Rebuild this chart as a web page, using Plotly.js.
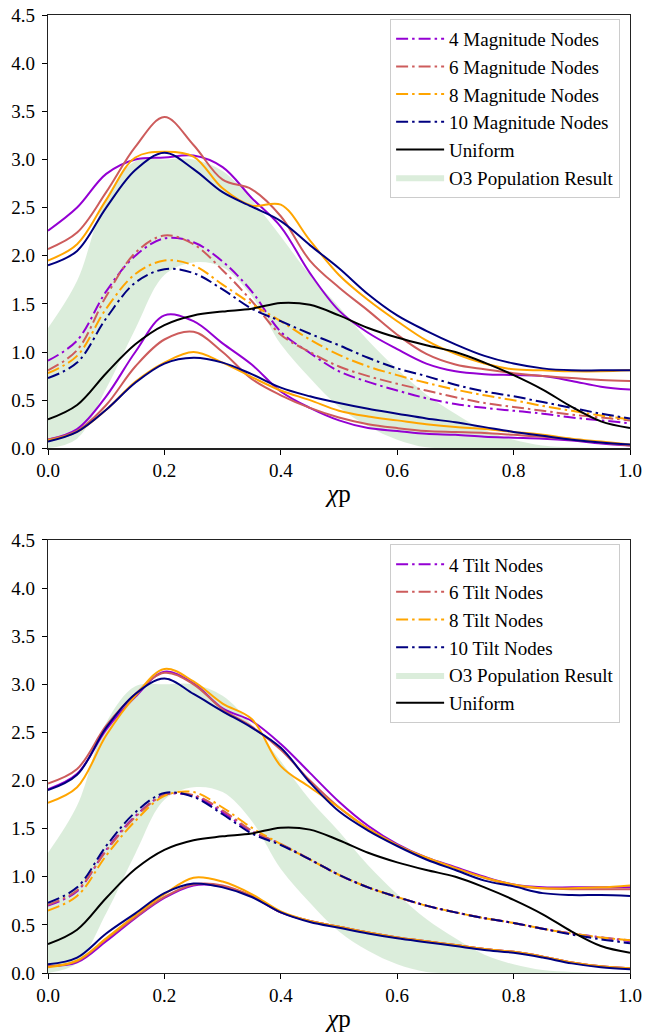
<!DOCTYPE html>
<html>
<head>
<meta charset="utf-8">
<script src="https://cdn.plot.ly/plotly-3.0.1.min.js"></script>
<style>
html,body{margin:0;padding:0;background:#fff;}
#chart{width:653px;height:1032px;}
</style>
</head>
<body>
<div id="chart"></div>
<script>
// x grid (chi_p)
const chiP = [0,0.05,0.1,0.15,0.2,0.25,0.3,0.35,0.4,0.45,0.5,0.55,0.6,0.65,0.7,0.75,0.8,0.85,0.9,0.95,1.0];

// O3 population result band (shared by both panels)
const o3Lower = [0.0,0.1,0.62,1.24,1.8,1.93,1.88,1.58,1.08,0.73,0.43,0.23,0.09,0.01,0,0,0,0,0,0,0];
const o3Upper = [1.25,1.74,2.6,2.98,3.0,3.0,2.88,2.58,2.2,1.8,1.47,1.12,0.82,0.56,0.36,0.19,0.09,0.03,0.01,0,0];

// Uniform (shared)
const uniform = [0.30,0.45,0.78,1.08,1.28,1.38,1.42,1.45,1.51,1.49,1.38,1.25,1.15,1.07,1.0,0.89,0.76,0.61,0.43,0.28,0.21];

// ---- Top panel: magnitude nodes ----
const mag4Upper  = [2.26,2.50,2.85,3.00,3.02,3.04,2.92,2.60,2.30,1.82,1.43,1.20,1.03,0.88,0.80,0.77,0.76,0.75,0.70,0.64,0.61];
const mag4Median = [0.91,1.12,1.63,2.00,2.18,2.14,1.94,1.63,1.21,0.99,0.80,0.69,0.60,0.52,0.46,0.42,0.39,0.36,0.32,0.29,0.26];
const mag4Lower  = [0.09,0.20,0.54,1.00,1.38,1.32,1.09,0.87,0.59,0.42,0.29,0.21,0.18,0.15,0.14,0.12,0.11,0.10,0.08,0.05,0.03];

const mag6Upper  = [2.07,2.24,2.66,3.13,3.44,3.15,2.79,2.69,2.41,1.95,1.67,1.43,1.18,0.98,0.87,0.82,0.78,0.75,0.73,0.71,0.70];
const mag6Median = [0.81,1.02,1.58,2.03,2.21,2.12,1.85,1.53,1.18,1.00,0.85,0.75,0.67,0.60,0.53,0.47,0.43,0.39,0.35,0.32,0.29];
const mag6Lower  = [0.09,0.18,0.45,0.85,1.13,1.21,1.00,0.72,0.55,0.42,0.32,0.25,0.21,0.18,0.17,0.16,0.14,0.12,0.09,0.06,0.03];

const mag8Upper  = [1.95,2.12,2.58,3.02,3.08,3.03,2.70,2.52,2.53,2.16,1.80,1.54,1.32,1.12,0.98,0.88,0.82,0.81,0.80,0.80,0.81];
const mag8Median = [0.78,0.96,1.45,1.81,1.95,1.90,1.70,1.50,1.32,1.13,0.97,0.85,0.76,0.68,0.61,0.55,0.50,0.44,0.39,0.34,0.30];
const mag8Lower  = [0.08,0.17,0.40,0.69,0.89,1.00,0.89,0.74,0.60,0.50,0.39,0.33,0.29,0.25,0.22,0.20,0.17,0.14,0.10,0.07,0.04];

const mag10Upper  = [1.90,2.05,2.50,2.89,3.07,2.90,2.66,2.51,2.36,2.11,1.87,1.60,1.38,1.22,1.08,0.96,0.88,0.83,0.81,0.81,0.81];
const mag10Median = [0.73,0.89,1.35,1.72,1.86,1.82,1.65,1.45,1.32,1.19,1.07,0.94,0.83,0.75,0.66,0.59,0.54,0.48,0.42,0.36,0.31];
const mag10Lower  = [0.07,0.17,0.40,0.68,0.88,0.94,0.89,0.77,0.63,0.54,0.47,0.41,0.36,0.31,0.27,0.22,0.17,0.13,0.09,0.06,0.04];

// ---- Bottom panel: tilt nodes ----
const tilt4Upper  = [1.91,2.07,2.53,2.87,3.13,3.01,2.75,2.62,2.38,2.08,1.78,1.53,1.34,1.20,1.10,1.00,0.92,0.89,0.89,0.89,0.89];
const tilt4Median = [0.70,0.85,1.28,1.63,1.85,1.84,1.67,1.47,1.34,1.18,1.02,0.89,0.79,0.70,0.63,0.57,0.52,0.46,0.41,0.37,0.33];
const tilt4Lower  = [0.07,0.11,0.33,0.57,0.78,0.91,0.90,0.80,0.63,0.54,0.48,0.42,0.37,0.33,0.29,0.25,0.22,0.17,0.11,0.07,0.05];

const tilt6Upper  = [1.97,2.12,2.57,2.90,3.12,3.00,2.74,2.56,2.32,2.00,1.72,1.50,1.33,1.19,1.09,0.99,0.91,0.88,0.87,0.87,0.87];
const tilt6Median = [0.71,0.86,1.27,1.62,1.85,1.85,1.69,1.48,1.34,1.18,1.02,0.89,0.79,0.70,0.63,0.57,0.52,0.46,0.41,0.37,0.34];
const tilt6Lower  = [0.07,0.12,0.35,0.58,0.79,0.92,0.91,0.80,0.63,0.54,0.48,0.42,0.37,0.33,0.29,0.25,0.22,0.17,0.11,0.07,0.05];

const tilt8Upper  = [1.77,1.93,2.47,2.88,3.16,3.03,2.80,2.64,2.15,1.93,1.72,1.50,1.33,1.20,1.09,0.99,0.92,0.88,0.88,0.89,0.91];
const tilt8Median = [0.65,0.80,1.22,1.58,1.84,1.88,1.72,1.51,1.34,1.18,1.02,0.89,0.79,0.70,0.63,0.57,0.52,0.46,0.41,0.37,0.34];
const tilt8Lower  = [0.06,0.13,0.36,0.60,0.82,0.99,0.95,0.82,0.64,0.54,0.48,0.42,0.37,0.33,0.29,0.25,0.22,0.17,0.11,0.07,0.05];

const tilt10Upper  = [1.90,2.06,2.55,2.90,3.06,2.90,2.72,2.55,2.34,1.98,1.68,1.48,1.32,1.18,1.07,0.96,0.90,0.83,0.81,0.81,0.80];
const tilt10Median = [0.73,0.89,1.32,1.67,1.87,1.83,1.65,1.45,1.33,1.18,1.02,0.89,0.79,0.70,0.63,0.57,0.52,0.46,0.40,0.35,0.31];
const tilt10Lower  = [0.09,0.16,0.41,0.62,0.83,0.93,0.89,0.79,0.63,0.53,0.47,0.41,0.36,0.32,0.28,0.24,0.21,0.16,0.10,0.06,0.04];

const nodeCounts = [4,6,8,10];
const nodeColors = ['#9400D3','#CD5C5C','#FFA500','#000080'];
const magSets = [
  [mag4Upper,mag4Median,mag4Lower],
  [mag6Upper,mag6Median,mag6Lower],
  [mag8Upper,mag8Median,mag8Lower],
  [mag10Upper,mag10Median,mag10Lower]
];
const tiltSets = [
  [tilt4Upper,tilt4Median,tilt4Lower],
  [tilt6Upper,tilt6Median,tilt6Lower],
  [tilt8Upper,tilt8Median,tilt8Lower],
  [tilt10Upper,tilt10Median,tilt10Lower]
];

const FONT = '"Liberation Serif", "DejaVu Serif", serif';
const DASHDOT = '12px,4px,2.5px,4px';
const bandColor = 'rgba(0,128,0,0.14)';
const SM = 1.0;

function panelTraces(sets, label, xa, ya, leg, o3Rank, uniRank){
  const t = [];
  t.push({x:chiP, y:o3Lower, xaxis:xa, yaxis:ya, mode:'lines', line:{width:0, shape:'spline', smoothing:SM},
          hoverinfo:'skip', showlegend:false, legend:leg});
  t.push({x:chiP, y:o3Upper, xaxis:xa, yaxis:ya, mode:'lines', fill:'tonexty', fillcolor:bandColor,
          line:{width:0, shape:'spline', smoothing:SM}, name:'O3 Population Result', legend:leg, legendrank:o3Rank});
  sets.forEach((s,i)=>{
    const c = nodeColors[i];
    t.push({x:chiP, y:s[0], xaxis:xa, yaxis:ya, mode:'lines', line:{color:c, width:2, shape:'spline', smoothing:SM},
            showlegend:false, legend:leg});
    t.push({x:chiP, y:s[2], xaxis:xa, yaxis:ya, mode:'lines', line:{color:c, width:2, shape:'spline', smoothing:SM},
            showlegend:false, legend:leg});
  });
  sets.forEach((s,i)=>{
    const c = nodeColors[i];
    t.push({x:chiP, y:s[1], xaxis:xa, yaxis:ya, mode:'lines', line:{color:c, width:2, dash:DASHDOT, shape:'spline', smoothing:SM},
            name: nodeCounts[i] + ' ' + label + ' Nodes', legend:leg, legendrank:i+1});
  });
  t.push({x:chiP, y:uniform, xaxis:xa, yaxis:ya, mode:'lines', line:{color:'#000000', width:2, shape:'spline', smoothing:SM},
          name:'Uniform', legend:leg, legendrank:uniRank});
  return t;
}

const data = [].concat(
  panelTraces(magSets, 'Magnitude', 'x', 'y', 'legend', 6, 5),
  panelTraces(tiltSets, 'Tilt', 'x2', 'y2', 'legend2', 5, 6)
);

const xTicks = [0,0.2,0.4,0.6,0.8,1.0];
const yTicks = [0,0.5,1,1.5,2,2.5,3,3.5,4,4.5];

function xAxis(anchor){
  return {
    anchor:anchor, domain:[0,1], range:[0,1], tickvals:xTicks, tickformat:'.1f',
    ticks:'outside', ticklen:5, tickwidth:1, tickcolor:'#000', showline:true, mirror:true,
    linecolor:'#222', linewidth:1.2, showgrid:false, zeroline:false,
    tickfont:{family:FONT, size:19, color:'#000'},
    title:{text:'<i>χ</i>p', font:{family:FONT, size:25, color:'#000'}, standoff:4}
  };
}
function yAxis(anchor, domain){
  return {
    anchor:anchor, domain:domain, range:[0,4.5], tickvals:yTicks, tickformat:'.1f',
    ticks:'outside', ticklen:5, tickwidth:1, tickcolor:'#000', showline:true, mirror:true,
    linecolor:'#222', linewidth:1.2, showgrid:false, zeroline:false, ticklabelstandoff:3,
    tickfont:{family:FONT, size:19, color:'#000'}
  };
}
function legendCfg(y){
  return {
    x:0.983, xanchor:'right', y:y, yanchor:'top', traceorder:'normal',
    itemwidth:48,
    bgcolor:'rgba(255,255,255,0.85)', bordercolor:'#cccccc', borderwidth:1,
    font:{family:FONT, size:19, color:'#000'}
  };
}

const layout = {
  width:653, height:1032,
  margin:{l:48, r:23, t:15, b:59},
  paper_bgcolor:'#fff', plot_bgcolor:'#fff',
  font:{family:FONT, color:'#000'},
  showlegend:true,
  xaxis: xAxis('y'),
  yaxis: yAxis('x', [0.5477,1]),
  xaxis2: xAxis('y2'),
  yaxis2: yAxis('x2', [0,0.452]),
  legend: legendCfg(0.996),
  legend2: legendCfg(0.4475)
};

Plotly.newPlot('chart', data, layout, {staticPlot:true, displayModeBar:false});
</script>
</body>
</html>
